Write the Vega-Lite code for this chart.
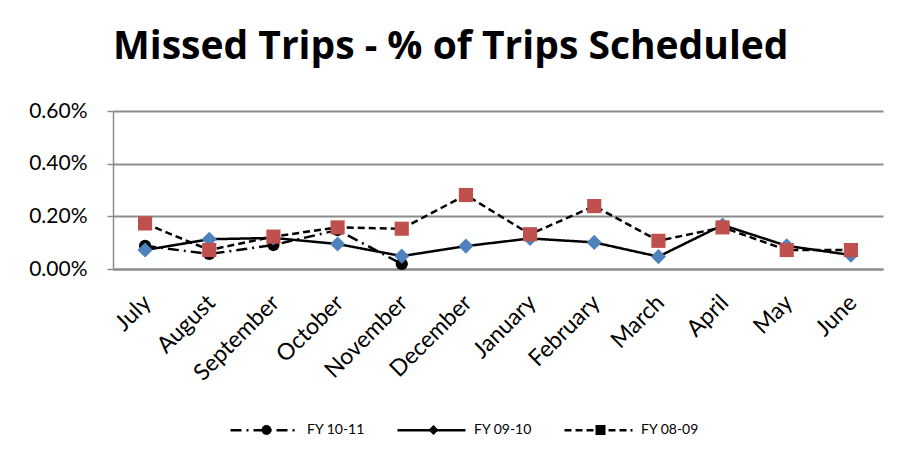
{
  "$schema": "https://vega.github.io/schema/vega-lite/v6.json",
  "autosize": "none",
  "width": 770,
  "height": 158,
  "padding": {"left": 113, "top": 111, "right": 26, "bottom": 197},
  "background": "white",
  "title": {
    "text": "Missed Trips - % of Trips Scheduled",
    "anchor": "start",
    "frame": "group",
    "font": "Open Sans",
    "fontSize": 39,
    "fontWeight": "bold",
    "color": "black",
    "offset": 33
  },
  "data": {
    "values": [
      {"month": "July", "series": "FY 10-11", "value": 0.00088},
      {"month": "August", "series": "FY 10-11", "value": 0.00057},
      {"month": "September", "series": "FY 10-11", "value": 0.00091},
      {"month": "October", "series": "FY 10-11", "value": 0.00148},
      {"month": "November", "series": "FY 10-11", "value": 0.00019},
      {"month": "July", "series": "FY 09-10", "value": 0.00072},
      {"month": "August", "series": "FY 09-10", "value": 0.00113},
      {"month": "September", "series": "FY 09-10", "value": 0.00118},
      {"month": "October", "series": "FY 09-10", "value": 0.00095},
      {"month": "November", "series": "FY 09-10", "value": 0.00049},
      {"month": "December", "series": "FY 09-10", "value": 0.00087},
      {"month": "January", "series": "FY 09-10", "value": 0.00116},
      {"month": "February", "series": "FY 09-10", "value": 0.00101},
      {"month": "March", "series": "FY 09-10", "value": 0.00047},
      {"month": "April", "series": "FY 09-10", "value": 0.00167},
      {"month": "May", "series": "FY 09-10", "value": 0.00088},
      {"month": "June", "series": "FY 09-10", "value": 0.00053},
      {"month": "July", "series": "FY 08-09", "value": 0.00173},
      {"month": "August", "series": "FY 08-09", "value": 0.00072},
      {"month": "September", "series": "FY 08-09", "value": 0.00123},
      {"month": "October", "series": "FY 08-09", "value": 0.00158},
      {"month": "November", "series": "FY 08-09", "value": 0.00153},
      {"month": "December", "series": "FY 08-09", "value": 0.00281},
      {"month": "January", "series": "FY 08-09", "value": 0.00132},
      {"month": "February", "series": "FY 08-09", "value": 0.00239},
      {"month": "March", "series": "FY 08-09", "value": 0.00107},
      {"month": "April", "series": "FY 08-09", "value": 0.00158},
      {"month": "May", "series": "FY 08-09", "value": 0.00072},
      {"month": "June", "series": "FY 08-09", "value": 0.00072}
    ]
  },
  "encoding": {
    "x": {
      "field": "month",
      "type": "ordinal",
      "sort": ["July", "August", "September", "October", "November", "December", "January", "February", "March", "April", "May", "June"],
      "scale": {"type": "point", "padding": 0.5},
      "axis": {
        "title": null,
        "labelAngle": -45,
        "labelFont": "Lato",
        "labelFontSize": 23,
        "labelColor": "black",
        "labelPadding": 22,
        "labelOffset": -6,
        "ticks": false,
        "domainColor": "#8c8c8c",
        "domainWidth": 2,
        "grid": false
      }
    },
    "y": {
      "field": "value",
      "type": "quantitative",
      "scale": {"domain": [0, 0.006], "nice": false},
      "axis": {
        "title": null,
        "values": [0, 0.002, 0.004, 0.006],
        "format": ".2%",
        "labelFont": "Lato",
        "labelFontSize": 21,
        "labelColor": "black",
        "labelPadding": 20,
        "tickColor": "#8c8c8c",
        "tickSize": 6,
        "tickWidth": 1.5,
        "domainColor": "#8c8c8c",
        "domainWidth": 1.5,
        "gridColor": "#8c8c8c",
        "gridWidth": 2,
        "gridOpacity": 1
      }
    }
  },
  "layer": [
    {
      "mark": {"type": "line", "color": "black", "strokeWidth": 2.5},
      "encoding": {
        "strokeDash": {
          "field": "series",
          "type": "nominal",
          "scale": {"domain": ["FY 10-11", "FY 09-10", "FY 08-09"], "range": [[11, 5, 2, 5], [1, 0], [7, 4]]},
          "legend": {
            "title": null,
            "orient": "none",
            "legendX": 116,
            "legendY": 283.5,
            "direction": "horizontal",
            "padding": 0,
            "symbolType": "stroke",
            "symbolSize": 4624,
            "symbolStrokeWidth": 2.5,
            "symbolStrokeColor": "black",
            "labelOffset": 7,
            "columnPadding": 27,
            "labelFont": "Lato",
            "labelFontSize": 14,
            "labelColor": "black",
            "zindex": 0
          }
        }
      }
    },
    {
      "transform": [{"filter": "datum.series === 'FY 10-11'"}],
      "mark": {"type": "point", "filled": true, "opacity": 1, "shape": "circle", "size": 150, "color": "#000000"}
    },
    {
      "transform": [{"filter": "datum.series === 'FY 09-10'"}],
      "mark": {"type": "point", "filled": true, "opacity": 1, "shape": "diamond", "size": 230, "color": "#4F81BD"}
    },
    {
      "transform": [{"filter": "datum.series === 'FY 08-09'"}],
      "mark": {"type": "point", "filled": true, "opacity": 1, "shape": "square", "size": 200, "color": "#C0504D"}
    },
    {
      "mark": {"type": "point", "filled": true, "opacity": 0, "size": 100},
      "encoding": {
        "shape": {
          "field": "series",
          "type": "nominal",
          "sort": ["FY 10-11", "FY 09-10", "FY 08-09"],
          "scale": {"range": ["circle", "diamond", "square"]},
          "legend": {
            "title": null,
            "orient": "none",
            "legendX": 116,
            "legendY": 312,
            "direction": "horizontal",
            "padding": 0,
            "symbolSize": 100,
            "symbolOffset": 30.5,
            "symbolStrokeWidth": 0,
            "labelOffset": 37.5,
            "columnPadding": 27,
            "labelFont": "Lato",
            "labelFontSize": 14,
            "labelOpacity": 0,
            "symbolOpacity": 1,
            "zindex": 1,
            "encode": {
              "symbols": {
                "update": {
                  "fill": {"signal": "datum.value === 'FY 09-10' ? '#4F81BD' : (datum.value === 'FY 08-09' ? '#C0504D' : '#000000')"},
                  "stroke": {"value": "transparent"},
                  "opacity": {"value": 1}
                }
              }
            }
          }
        },
        "color": {
          "field": "series",
          "type": "nominal",
          "sort": ["FY 10-11", "FY 09-10", "FY 08-09"],
          "scale": {"range": ["#000000", "#4F81BD", "#C0504D"]},
          "legend": null
        }
      }
    }
  ],
  "config": {
    "view": {"stroke": null},
    "font": "Lato"
  }
}
